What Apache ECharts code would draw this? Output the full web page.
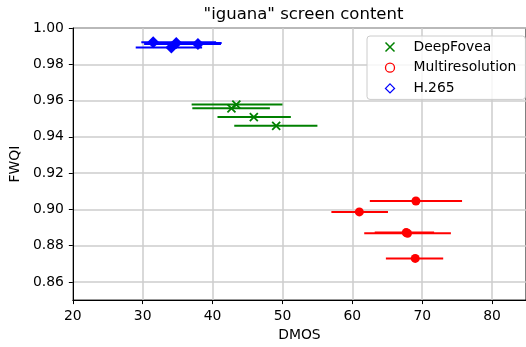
<!DOCTYPE html>
<html>
<head>
<meta charset="utf-8">
<script src="https://cdn.jsdelivr.net/npm/echarts@6/dist/echarts.min.js"></script>
<style>html,body{margin:0;padding:0;background:#fff}#c{width:526px;height:347px}</style>
</head>
<body>
<div id="c"></div>
<script>
// ---- data ----
const seriesNames = ['DeepFovea', 'Multiresolution', 'H.265'];

const deepX   = [43.4, 42.7, 45.9, 49.1];
const deepY   = [0.9578, 0.9557, 0.9509, 0.9461];
const deepLo  = [37.0, 37.1, 40.7, 43.1];
const deepHi  = [50.0, 48.2, 51.2, 55.0];

const multiX  = [69.1, 61.0, 67.7, 67.9, 69.0];
const multiY  = [0.9046, 0.8986, 0.8872, 0.8868, 0.8730];
const multiLo = [62.5, 57.0, 63.2, 61.7, 64.8];
const multiHi = [75.7, 65.1, 71.7, 74.1, 73.0];

const hevcX   = [31.5, 34.1, 34.8, 37.9];
const hevcY   = [0.9922, 0.9893, 0.9917, 0.9912];
const hevcLo  = [29.8, 29.0, 30.5, 30.2];
const hevcHi  = [40.5, 38.5, 41.3, 41.2];

const xTicks = [20, 30, 40, 50, 60, 70, 80];
const yTicks = [0.86, 0.88, 0.90, 0.92, 0.94, 0.96, 0.98, 1.00];

// ---- helpers ----
const FONT = 'DejaVu Sans';
const X_PATH = 'path://M0,0L10,10M0,10L10,0';
const CIRCLE_PATH = 'path://M5,0A5,5,0,1,1,5,10A5,5,0,1,1,5,0Z';
const DIAMOND_PATH = 'path://M5,0L10,5L5,10L0,5Z';

function pts(xs, ys) { return xs.map((x, i) => [x, ys[i]]); }
function bars(ys, lo, hi) { return ys.map((y, i) => [lo[i], hi[i], y]); }

function errSeries(name, color, data) {
  return {
    name: name + ' err',
    type: 'custom',
    silent: true,
    data: data,
    encode: { x: [0, 1], y: 2 },
    renderItem: function (params, api) {
      const a = api.coord([api.value(0), api.value(2)]);
      const b = api.coord([api.value(1), api.value(2)]);
      return {
        type: 'line',
        shape: { x1: a[0], y1: a[1], x2: b[0], y2: b[1] },
        style: { stroke: color, lineWidth: 2, lineCap: 'butt' }
      };
    }
  };
}

const chart = echarts.init(document.getElementById('c'), null, { renderer: 'canvas' });

chart.setOption({
  animation: false,
  backgroundColor: '#fff',
  textStyle: { fontFamily: FONT },
  title: {
    text: '"iguana" screen content',
    left: 298.5,
    textAlign: 'center',
    top: 1,
    textStyle: { fontFamily: FONT, fontSize: 16.5, fontWeight: 'normal', color: '#000' }
  },
  grid: {
    left: 71, top: 28, right: -1, bottom: 45,
    show: true, borderColor: '#000', borderWidth: 1, backgroundColor: 'transparent'
  },
  legend: {
    orient: 'vertical',
    left: 367, top: 36,
    padding: [4, 9, 4, 16],
    itemGap: 6.7,
    itemWidth: 9, itemHeight: 9,
    backgroundColor: 'rgba(255,255,255,0.8)',
    borderColor: '#cccccc', borderWidth: 1, borderRadius: 3,
    textStyle: { fontFamily: FONT, fontSize: 13.9, color: '#000', padding: [0, 0, 0, 14], lineHeight: 14 },
    data: [
      { name: seriesNames[0], icon: X_PATH, itemStyle: { color: 'none', borderColor: 'green', borderWidth: 1.5 } },
      { name: seriesNames[1], icon: CIRCLE_PATH, itemStyle: { color: 'none', borderColor: 'red', borderWidth: 1.3 } },
      { name: seriesNames[2], icon: DIAMOND_PATH, itemStyle: { color: 'none', borderColor: 'blue', borderWidth: 1.3 } }
    ]
  },
  xAxis: {
    type: 'value',
    min: 20, max: 84.85, interval: 10,
    name: 'DMOS', nameLocation: 'middle', nameGap: 27,
    nameTextStyle: { fontFamily: FONT, fontSize: 13.9, color: '#000' },
    axisLine: { show: true, onZero: false, lineStyle: { color: '#000', width: 1 } },
    axisTick: { show: true, length: 4, lineStyle: { color: '#000' }, customValues: xTicks },
    axisLabel: { fontFamily: FONT, fontSize: 13.9, color: '#000', margin: 9, customValues: xTicks,
                 formatter: v => String(v) },
    splitLine: { show: true, lineStyle: { color: '#cccccc', width: 1.5 } }
  },
  yAxis: {
    type: 'value',
    min: 0.85, max: 1.0,
    name: 'FWQI', nameLocation: 'middle', nameGap: 43,
    nameTextStyle: { fontFamily: FONT, fontSize: 13.9, color: '#000' },
    axisLine: { show: true, onZero: false, lineStyle: { color: '#000', width: 1 } },
    axisTick: { show: true, length: 4, lineStyle: { color: '#000' }, customValues: yTicks },
    axisLabel: { fontFamily: FONT, fontSize: 13.9, color: '#000', margin: 9, customValues: yTicks,
                 formatter: v => v.toFixed(2) },
    splitLine: { show: true, lineStyle: { color: '#cccccc', width: 1.5 } }
  },
  series: [
    errSeries(seriesNames[0], 'green', bars(deepY, deepLo, deepHi)),
    {
      name: seriesNames[0], type: 'scatter', data: pts(deepX, deepY),
      symbol: X_PATH, symbolSize: 8,
      itemStyle: { color: 'none', borderColor: 'green', borderWidth: 1.8, opacity: 1 }
    },
    errSeries(seriesNames[1], 'red', bars(multiY, multiLo, multiHi)),
    {
      name: seriesNames[1], type: 'scatter', data: pts(multiX, multiY),
      symbol: 'circle', symbolSize: 9,
      itemStyle: { color: 'red', opacity: 1 }
    },
    errSeries(seriesNames[2], 'blue', bars(hevcY, hevcLo, hevcHi)),
    {
      name: seriesNames[2], type: 'scatter', data: pts(hevcX, hevcY),
      symbol: 'diamond', symbolSize: [12, 12],
      itemStyle: { color: 'blue', opacity: 1 }
    }
  ]
});
</script>
</body>
</html>
